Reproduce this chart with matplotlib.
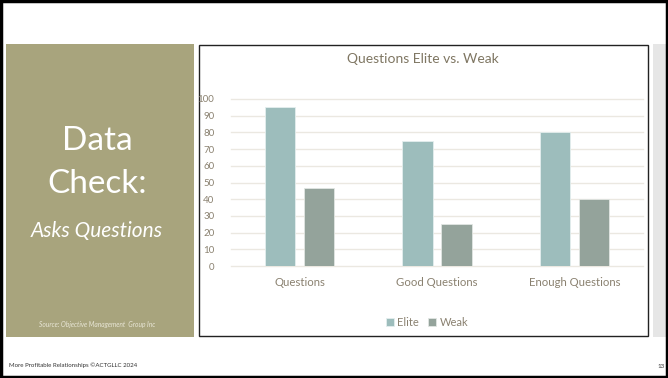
import matplotlib.pyplot as plt
import matplotlib.patches as mpatches
import numpy as np

# chart data
categories = ["Questions", "Good Questions", "Enough Questions"]
elite = [95, 75, 80]
weak = [47, 25, 40]
yticks = [0, 10, 20, 30, 40, 50, 60, 70, 80, 90, 100]

plt.rcParams["font.family"] = ["Lato", "DejaVu Sans"]

W, H = 668, 378
fig = plt.figure(figsize=(W / 100, H / 100), dpi=100)
fig.patch.set_facecolor("white")


def px_rect(x0, y0, x1, y1, **kw):
    # rectangle given in pixel coords from the top-left corner
    r = mpatches.Rectangle((x0 / W, 1 - y1 / H), (x1 - x0) / W, (y1 - y0) / H,
                           transform=fig.transFigure, **kw)
    fig.add_artist(r)


def px_text(x, y, s, **kw):
    fig.text(x / W, 1 - y / H, s, **kw)


# slide frame and side panels
px_rect(1, 1, W - 1, H - 1, facecolor="none", edgecolor="black", linewidth=2.5, zorder=10)
px_rect(6, 44, 194, 337, facecolor="#a8a47d", edgecolor="none")
px_rect(653, 44, 668, 337, facecolor="#e6e6e6", edgecolor="none")
px_rect(199, 45, 648, 336, facecolor="white", edgecolor="#222222", linewidth=1.0, zorder=1)

# left panel text
px_text(97, 141, "Data", color="white", fontsize=24,
        ha="center", va="center")
px_text(97, 184, "Check:", color="white", fontsize=24,
        ha="center", va="center")
px_text(97, 231, "Asks Questions", color="white", fontsize=15, style="italic",
        ha="center", va="center")
px_text(97, 324, "Source: Objective Management  Group Inc", color="#e8e6d6",
        fontsize=4.8, style="italic", ha="center", va="center")

# footer
px_text(9, 365, "More Profitable Relationships ©ACTGLLC 2024", color="#333333",
        fontsize=4.4, ha="left", va="center")
px_text(661, 366, "13", color="#333333", fontsize=4.5, ha="center", va="center")

# chart
ax = fig.add_axes([231 / W, 1 - 266 / H, 412 / W, 167 / H], zorder=2)
ax.set_facecolor("none")
x = np.arange(len(categories))
bw = 0.22
off = 0.142
ax.bar(x - off, elite, bw, color="#9dbdbc", edgecolor="#e4eeee", linewidth=0.6,
       label="Elite", zorder=3)
ax.bar(x + off, weak, bw, color="#94a39b", edgecolor="#e2e6e3", linewidth=0.6,
       label="Weak", zorder=3)

ax.set_xlim(-0.5, 2.5)
ax.set_ylim(0, 100)
ax.set_yticks(yticks)
ax.set_xticks(x)
ax.set_xticklabels(categories)
for v in yticks:
    ax.axhline(v, color="#ebe8e1", linewidth=1.0, zorder=1, clip_on=False)
for s in ax.spines.values():
    s.set_visible(False)
ax.tick_params(axis="both", length=0, colors="#8a8170")
ax.tick_params(axis="y", labelsize=7, pad=12)
ax.tick_params(axis="x", labelsize=8.2, pad=8)

px_text(423, 59, "Questions Elite vs. Weak", color="#7f7662", fontsize=10,
        ha="center", va="center")

leg = ax.legend(loc="center", bbox_to_anchor=(427 / W, 1 - 322 / H),
                bbox_transform=fig.transFigure, ncol=2, frameon=False,
                fontsize=8, handlelength=0.75, handleheight=0.75,
                handletextpad=0.3, columnspacing=0.8)
for t in leg.get_texts():
    t.set_color("#8a8170")

fig.savefig("out.png", dpi=100)
